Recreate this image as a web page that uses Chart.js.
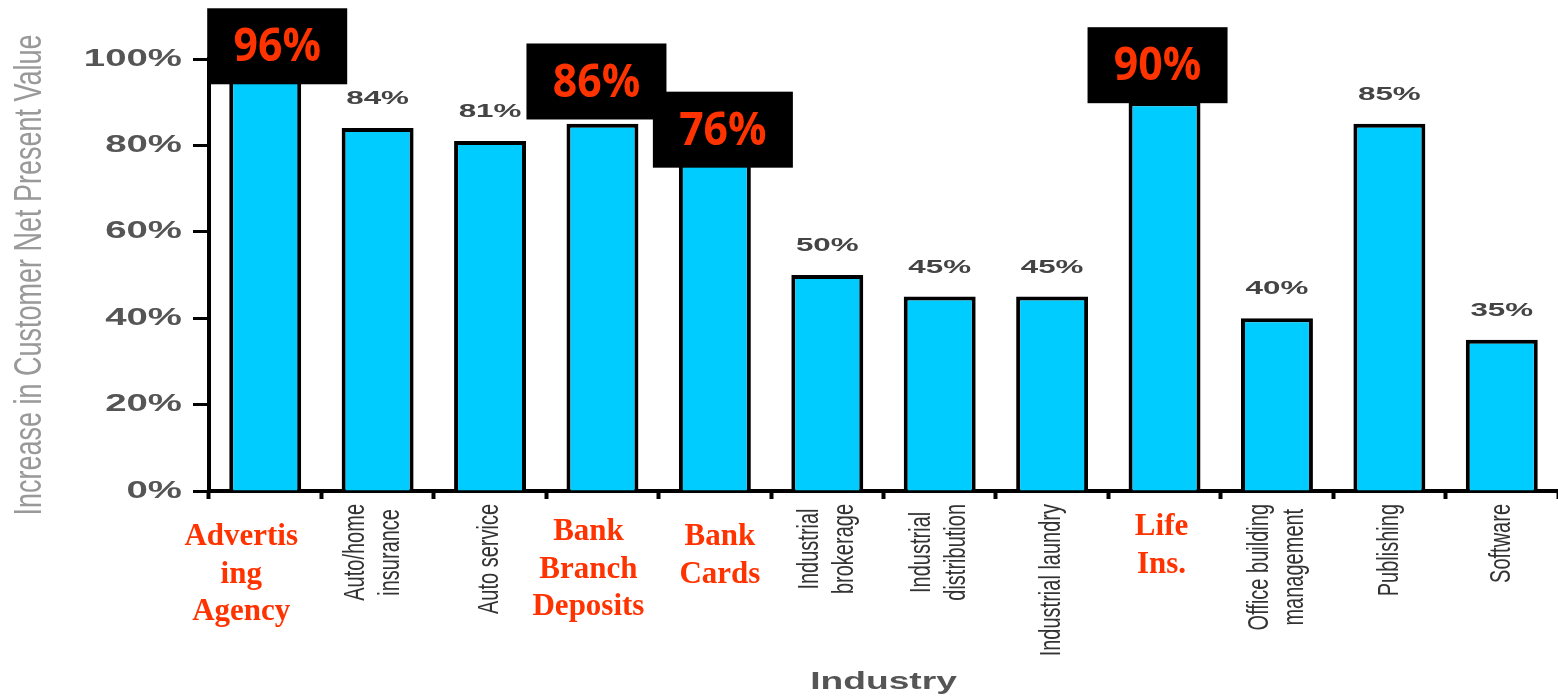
<!DOCTYPE html>
<html><head><meta charset="utf-8">
<script src="https://cdn.jsdelivr.net/npm/chart.js@4.4.1/dist/chart.umd.min.js"></script>
<style>html,body{margin:0;padding:0;background:#fff;overflow:hidden}canvas{display:block}</style>
</head><body>
<canvas id="c" width="1558" height="699"></canvas>
<script>
// ---------- data ----------
const categories = ["Advertising Agency", "Auto/home insurance", "Auto service", "Bank Branch Deposits", "Bank Cards", "Industrial brokerage", "Industrial distribution", "Industrial laundry", "Life Ins.", "Office building management", "Publishing", "Software"];
const values = [96, 84, 81, 85, 76, 50, 45, 45, 90, 40, 85, 35];
const highlightValues = [96, null, null, 86, 76, null, null, null, 90, null, null, null];
const labelLines = [["Advertis", "ing", "Agency"], ["Auto/home", "insurance"], ["Auto service"], ["Bank", "Branch", "Deposits"], ["Bank", "Cards"], ["Industrial", "brokerage"], ["Industrial", "distribution"], ["Industrial laundry"], ["Life", "Ins."], ["Office building", "management"], ["Publishing"], ["Software"]];
const yTitle = "Increase in Customer Net Present Value";
const xTitle = "Industry";

// ---------- style ----------
const RED = '#ff3300';
const boxW = 140, boxH = 76;
const boxDx = [12, 0, 0, -6, 8, 0, 0, 0, -7, 0, 0, 0];
const boxDy = [8, 0, 0, 0, 5, 0, 0, 0, 1, 0, 0, 0];
const redDx = [-24, 0, 0, -14, 5, 0, 0, 0, -3, 0, 0, 0];
const redY0 = [545, 0, 0, 540, 545, 0, 0, 0, 535, 0, 0, 0];
const grayDx = [0, -4, 0, 0, 0, 0, 0, 0, 0, 0, 0, 0];

function stretched(ctx, text, x, y, sx, rot) {
  ctx.save();
  ctx.translate(x, y);
  ctx.scale(sx, 1);
  if (rot) ctx.rotate(rot);
  ctx.fillText(text, 0, 0);
  ctx.restore();
}

const overlay = {
  id: 'overlay',
  afterDraw(chart) {
    const ctx = chart.ctx;
    const xs = chart.scales.x, ys = chart.scales.y;
    const meta = chart.getDatasetMeta(0);
    const ca = chart.chartArea;
    ctx.save();
    // y tick labels
    ctx.fillStyle = '#555';
    ctx.font = 'bold 24px "Liberation Sans", Arial, sans-serif';
    ctx.textAlign = 'right';
    ctx.textBaseline = 'middle';
    ys.ticks.forEach(t => {
      stretched(ctx, t.value + '%', 182, ys.getPixelForValue(t.value), 1.6, 0);
    });
    // y title
    ctx.fillStyle = '#999';
    ctx.font = '27px "Liberation Sans", Arial, sans-serif';
    ctx.textAlign = 'center';
    stretched(ctx, yTitle, 30, (ca.top + ca.bottom) / 2, 1.45, -Math.PI / 2);
    // x title
    ctx.fillStyle = '#555';
    ctx.font = 'bold 24px "Liberation Sans", Arial, sans-serif';
    stretched(ctx, xTitle, (ca.left + ca.right) / 2, 682, 1.55, 0);
    // value labels above bars
    ctx.fillStyle = '#444';
    ctx.font = 'bold 19px "Liberation Sans", Arial, sans-serif';
    meta.data.forEach((bar, i) => {
      stretched(ctx, values[i] + '%', bar.x, bar.y - 29, 1.65, 0);
    });
    // category labels
    categories.forEach((c, i) => {
      const cx = xs.getPixelForValue(i);
      const lines = labelLines[i];
      if (highlightValues[i] !== null) {
        ctx.fillStyle = RED;
        ctx.font = 'bold 31px "Liberation Serif", "Times New Roman", serif';
        ctx.textAlign = 'center';
        ctx.textBaseline = 'alphabetic';
        lines.forEach((ln, k) => ctx.fillText(ln, cx + redDx[i], redY0[i] + k * 37.5));
      } else {
        ctx.fillStyle = '#333';
        ctx.font = '20px "Liberation Sans", Arial, sans-serif';
        ctx.textAlign = 'center';
        ctx.textBaseline = 'middle';
        const L = Math.max(...lines.map(l => ctx.measureText(l).width));
        const cy = 504 + L / 2;
        const n = lines.length;
        lines.forEach((ln, k) => {
          const lx = cx + grayDx[i] + (k - (n - 1) / 2) * 35;
          stretched(ctx, ln, lx, cy, 1.5, -Math.PI / 2);
        });
      }
    });
    // highlight boxes
    highlightValues.forEach((hv, i) => {
      if (hv === null) return;
      const bar = meta.data[i];
      const cx = bar.x + boxDx[i];
      const bottom = ys.getPixelForValue(hv) + boxDy[i];
      ctx.fillStyle = '#000';
      ctx.fillRect(cx - boxW / 2, bottom - boxH, boxW, boxH);
      ctx.fillStyle = RED;
      ctx.font = 'bold 46px "Open Sans", "Noto Sans", sans-serif';
      ctx.textAlign = 'center';
      ctx.textBaseline = 'middle';
      stretched(ctx, hv + '%', cx, bottom - boxH / 2 + 2, 0.93, 0);
    });
    ctx.restore();
  }
};

new Chart(document.getElementById('c'), {
  type: 'bar',
  data: {
    labels: categories,
    datasets: [{
      data: values,
      backgroundColor: '#00ccff',
      borderColor: '#000',
      borderWidth: 4,
      categoryPercentage: 1,
      barPercentage: 0.64
    }]
  },
  options: {
    responsive: false,
    animation: false,
    devicePixelRatio: 1,
    layout: { padding: { top: 59, left: 0, right: 0, bottom: 0 } },
    plugins: { legend: { display: false }, tooltip: { enabled: false } },
    scales: {
      x: {
        offset: true,
        afterFit: s => { s.height = 208; },
        ticks: { display: false },
        grid: { display: true, offset: true, drawOnChartArea: false, drawTicks: true, tickLength: 8, tickWidth: 4, tickColor: '#000' },
        border: { display: true, color: '#000', width: 4 }
      },
      y: {
        min: 0, max: 100,
        afterFit: s => { s.width = 209; },
        ticks: { display: false, stepSize: 20 },
        grid: { display: true, drawOnChartArea: false, drawTicks: true, tickLength: 16, tickWidth: 3, tickColor: '#000' },
        border: { display: true, color: '#000', width: 4 }
      }
    }
  },
  plugins: [overlay]
});
</script>
</body></html>
